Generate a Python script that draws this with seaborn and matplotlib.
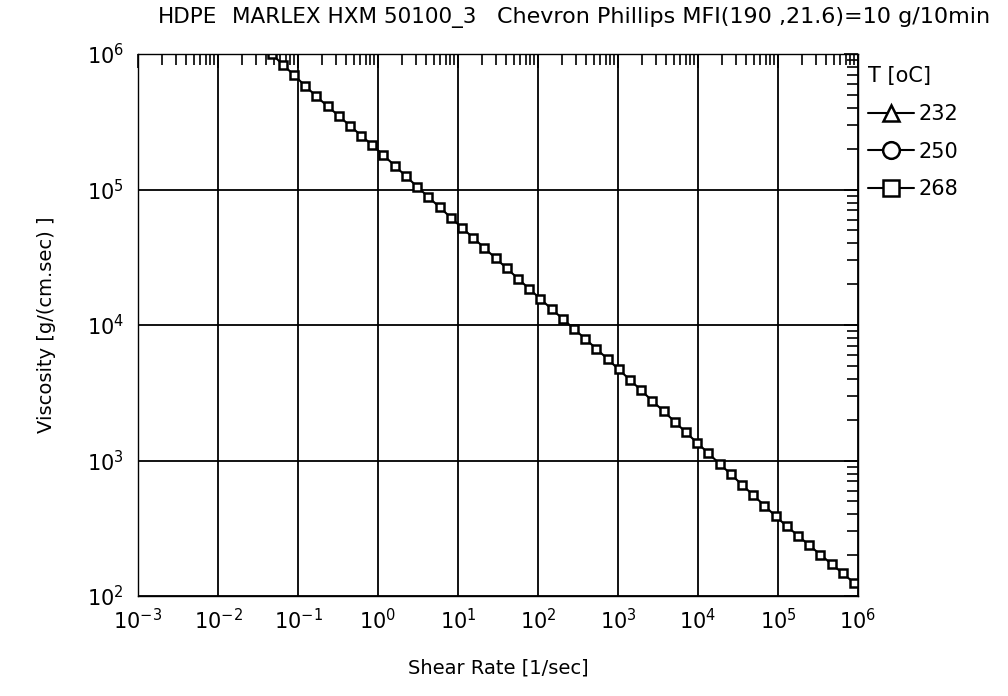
import numpy as np
import pandas as pd
import matplotlib
matplotlib.use("Agg")
import matplotlib.pyplot as plt
from matplotlib.lines import Line2D
from matplotlib.ticker import LogLocator, LogFormatterMathtext, NullFormatter
import seaborn as sns

# ---- data (T = 268 oC) ----
shear_rate = [0.0468, 0.0646, 0.0891, 0.123, 0.170, 0.234, 0.324, 0.447, 0.617, 0.851,
              1.17, 1.62, 2.24, 3.09, 4.27, 5.89, 8.13, 11.2, 15.5, 21.4,
              29.5, 40.7, 56.2, 77.6, 107, 148, 204, 282, 389, 537,
              741, 1020, 1410, 1950, 2690, 3720, 5130, 7080, 9770, 13500,
              18600, 25700, 35500, 49000, 67600, 93300, 129000, 178000, 245000, 339000,
              468000, 646000, 891000]
viscosity = [1000000, 836000, 698000, 582000, 486000, 412000, 349000, 295000, 250000, 212000,
             179000, 150000, 125000, 105000, 87900, 74000, 62100, 52200, 44000, 37000,
             31100, 26200, 22000, 18500, 15600, 13100, 11100, 9350, 7910, 6670,
             5610, 4700, 3940, 3290, 2750, 2310, 1930, 1610, 1350, 1130,
             946, 793, 662, 555, 465, 388, 327, 279, 237, 202,
             172, 147, 125]
temperatures = ["232", "250", "268"]
legend_markers = ["^", "o", "s"]
title_parts = ["HDPE", "MARLEX HXM 50100_3", "Chevron Phillips MFI(190 ,21.6)=10 g/10min"]
x_label = "Shear Rate [1/sec]"
y_label = "Viscosity [g/(cm.sec) ]"
legend_title = "T [oC]"

df = pd.DataFrame({"shear": shear_rate, "visc": viscosity})

sns.set_style("white")
plt.rcParams["font.family"] = ["DejaVu Sans"]
plt.rcParams["mathtext.default"] = "regular"
plt.rcParams["text.color"] = "black"
plt.rcParams["axes.labelcolor"] = "black"
plt.rcParams["xtick.color"] = "black"
plt.rcParams["ytick.color"] = "black"

fig = plt.figure(figsize=(10.08, 6.96), dpi=100)
ax = fig.add_axes([138 / 1008, 1 - 596 / 696, (858 - 138) / 1008, (596 - 54) / 696])

sns.lineplot(data=df, x="shear", y="visc", ax=ax, color="black", linewidth=1.5,
             marker="s", markersize=6, markerfacecolor="white",
             markeredgecolor="black", markeredgewidth=1.8)

ax.set_xscale("log")
ax.set_yscale("log")
ax.set_xlim(1e-3, 1e6)
ax.set_ylim(1e2, 1e6)

ax.xaxis.set_major_locator(LogLocator(base=10, numticks=20))
ax.yaxis.set_major_locator(LogLocator(base=10, numticks=20))
ax.xaxis.set_minor_locator(LogLocator(base=10, subs=np.arange(2, 10), numticks=20))
ax.yaxis.set_minor_locator(LogLocator(base=10, subs=np.arange(2, 10), numticks=20))
ax.xaxis.set_major_formatter(LogFormatterMathtext())
ax.yaxis.set_major_formatter(LogFormatterMathtext())
ax.xaxis.set_minor_formatter(NullFormatter())
ax.yaxis.set_minor_formatter(NullFormatter())

ax.grid(True, which="major", color="black", linewidth=1.3)
ax.tick_params(which="both", direction="in", top=True, right=True, colors="black")
ax.tick_params(axis="x", which="major", length=10, width=1.2, labelsize=15, pad=9)
ax.tick_params(axis="y", which="major", length=10, width=1.2, labelsize=15, pad=10)
ax.tick_params(which="minor", length=8, width=1.2)
for s in ax.spines.values():
    s.set_color("black")
    s.set_linewidth(1.0)

ax.set_xlabel(x_label, fontsize=14, labelpad=18)
ax.set_ylabel(y_label, fontsize=14, labelpad=22)

# title pieces
fig.text(158 / 1008, 1 - 17 / 696, title_parts[0], fontsize=15.5, va="center", ha="left")
fig.text(232 / 1008, 1 - 17 / 696, title_parts[1], fontsize=15.5, va="center", ha="left")
fig.text(497 / 1008, 1 - 17 / 696, title_parts[2], fontsize=16, va="center", ha="left")

handles = [Line2D([0], [0], color="black", linewidth=1.5, marker=m, markersize=12,
                  markerfacecolor="white", markeredgecolor="black", markeredgewidth=1.8)
           for m in legend_markers]
leg = fig.legend(handles, temperatures, title=legend_title, loc="upper left",
                 bbox_to_anchor=(860 / 1008, 1 - 58 / 696), frameon=False,
                 fontsize=15, title_fontsize=15, handlelength=2.2, handletextpad=0.2,
                 labelspacing=0.85, borderaxespad=0)
leg._legend_box.align = "left"

fig.savefig("out.png", dpi=100)
